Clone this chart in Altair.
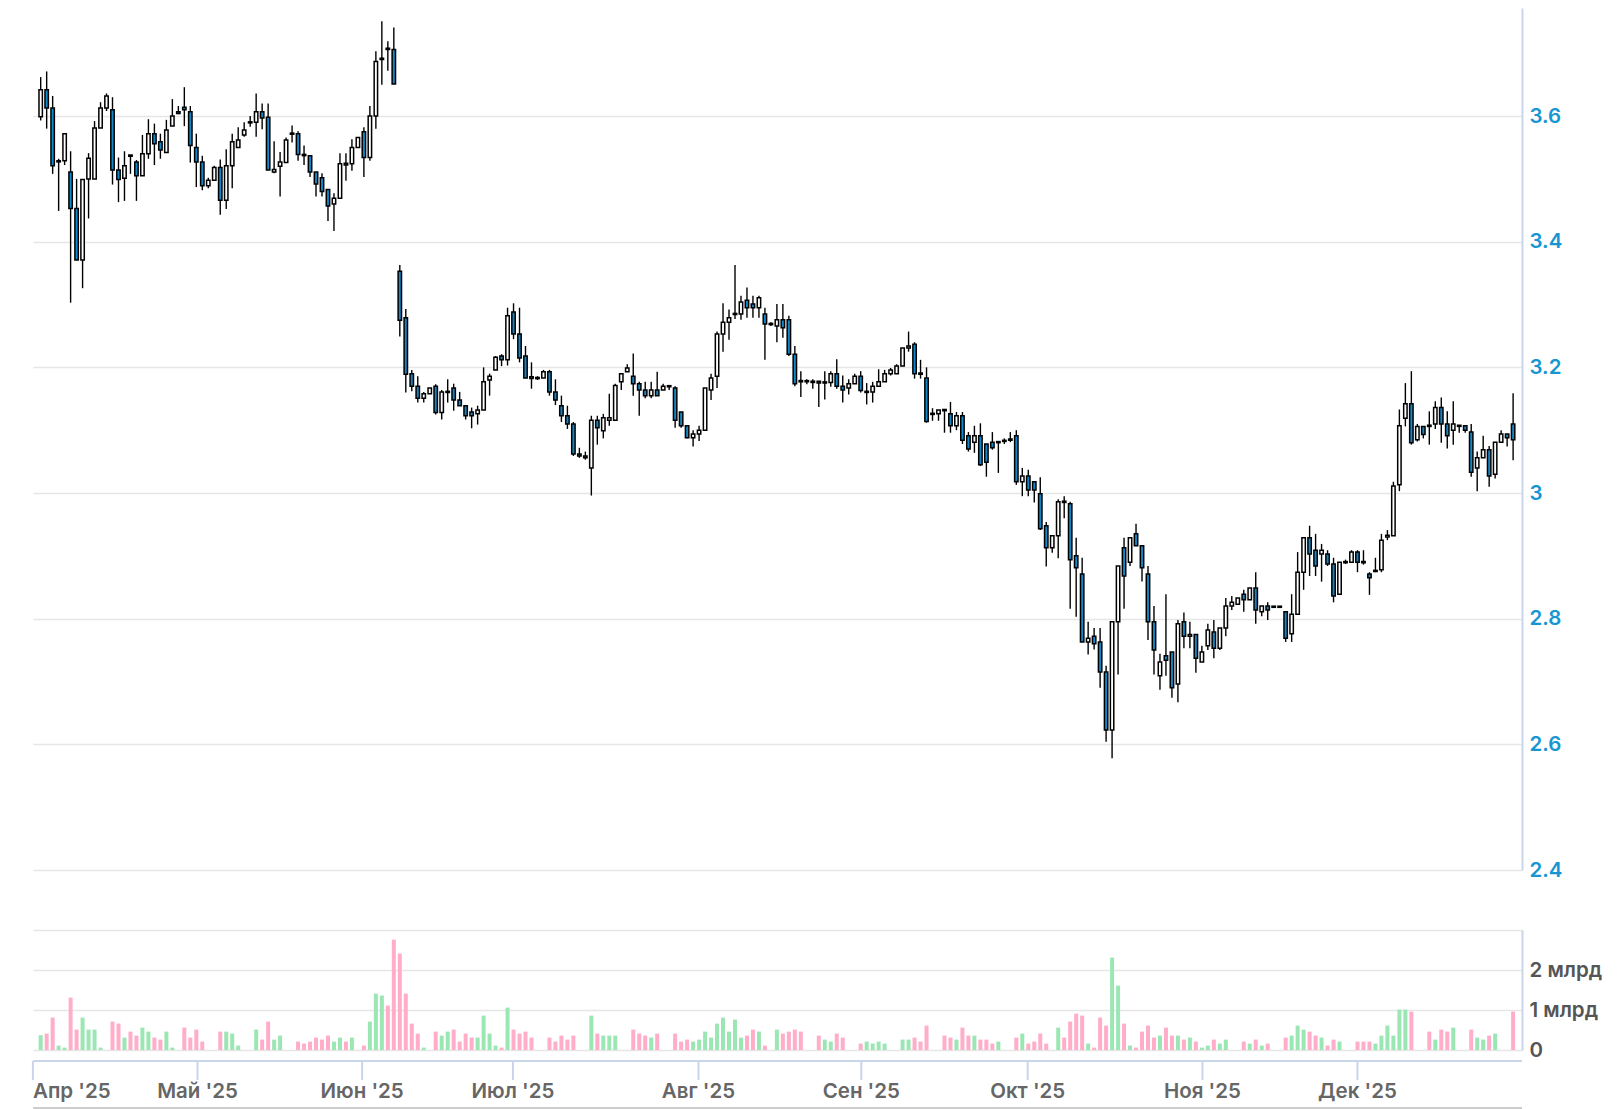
import altair as alt
import pandas as pd

# ---------------- data ----------------
opens = [
    3.599, 3.642, 3.613, 3.528, 3.529, 3.511, 3.453, 3.371, 3.500, 3.500,
    3.581, 3.613, 3.610, 3.514, 3.501, 3.538, 3.527, 3.505, 3.540, 3.572,
    3.559, 3.542, 3.584, 3.607, 3.614, 3.607, 3.550, 3.527, 3.489, 3.498,
    3.518, 3.466, 3.521, 3.550, 3.570, 3.590, 3.590, 3.607, 3.598, 3.511,
    3.520, 3.526, 3.572, 3.572, 3.539, 3.537, 3.511, 3.502, 3.483, 3.460,
    3.469, 3.525, 3.524, 3.550, 3.575, 3.534, 3.600, 3.690, 3.708, 3.706,
    3.353, 3.279, 3.190, 3.170, 3.151, 3.158, 3.170, 3.128, 3.161, 3.167,
    3.148, 3.139, 3.129, 3.126, 3.132, 3.180, 3.196, 3.218, 3.212, 3.288,
    3.253, 3.218, 3.184, 3.183, 3.183, 3.193, 3.161, 3.139, 3.123, 3.110,
    3.062, 3.059, 3.040, 3.116, 3.099, 3.116, 3.116, 3.177, 3.193, 3.186,
    3.174, 3.164, 3.155, 3.164, 3.164, 3.170, 3.167, 3.129, 3.107, 3.088,
    3.094, 3.100, 3.164, 3.186, 3.253, 3.272, 3.285, 3.285, 3.307, 3.301,
    3.295, 3.285, 3.269, 3.266, 3.276, 3.276, 3.221, 3.179, 3.178, 3.178,
    3.177, 3.176, 3.176, 3.190, 3.170, 3.167, 3.174, 3.186, 3.161, 3.161,
    3.170, 3.177, 3.190, 3.190, 3.202, 3.231, 3.237, 3.191, 3.183, 3.126,
    3.126, 3.133, 3.126, 3.107, 3.123, 3.091, 3.081, 3.091, 3.078, 3.081,
    3.081, 3.083, 3.084, 3.091, 3.018, 3.027, 3.018, 2.999, 2.948, 2.913,
    2.932, 2.987, 2.983, 2.900, 2.871, 2.763, 2.772, 2.763, 2.715, 2.623,
    2.795, 2.913, 2.890, 2.935, 2.916, 2.871, 2.795, 2.709, 2.741, 2.747,
    2.696, 2.795, 2.772, 2.775, 2.731, 2.757, 2.779, 2.753, 2.785, 2.820,
    2.823, 2.839, 2.830, 2.849, 2.811, 2.820, 2.819, 2.819, 2.811, 2.776,
    2.807, 2.874, 2.929, 2.909, 2.903, 2.903, 2.887, 2.839, 2.890, 2.890,
    2.906, 2.891, 2.871, 2.876, 2.878, 2.930, 2.932, 3.013, 3.119, 3.142,
    3.085, 3.106, 3.108, 3.110, 3.136, 3.110, 3.100, 3.107, 3.107, 3.097,
    3.040, 3.056, 3.069, 3.030, 3.081, 3.094, 3.110,
]
highs = [
    3.662, 3.671, 3.632, 3.532, 3.572, 3.544, 3.500, 3.499, 3.541, 3.592,
    3.622, 3.636, 3.630, 3.534, 3.544, 3.538, 3.530, 3.570, 3.595, 3.588,
    3.572, 3.594, 3.627, 3.616, 3.646, 3.616, 3.572, 3.537, 3.502, 3.521,
    3.531, 3.547, 3.572, 3.582, 3.590, 3.600, 3.636, 3.620, 3.620, 3.560,
    3.543, 3.566, 3.585, 3.576, 3.553, 3.537, 3.511, 3.509, 3.483, 3.477,
    3.541, 3.541, 3.563, 3.566, 3.582, 3.616, 3.703, 3.751, 3.719, 3.741,
    3.363, 3.293, 3.196, 3.186, 3.161, 3.167, 3.173, 3.164, 3.181, 3.174,
    3.161, 3.139, 3.136, 3.139, 3.200, 3.190, 3.218, 3.221, 3.295, 3.302,
    3.295, 3.234, 3.208, 3.186, 3.196, 3.196, 3.181, 3.155, 3.139, 3.113,
    3.072, 3.066, 3.123, 3.123, 3.126, 3.158, 3.174, 3.190, 3.205, 3.222,
    3.177, 3.177, 3.177, 3.193, 3.174, 3.172, 3.170, 3.129, 3.107, 3.100,
    3.107, 3.167, 3.190, 3.257, 3.302, 3.292, 3.363, 3.314, 3.327, 3.314,
    3.314, 3.295, 3.272, 3.301, 3.301, 3.282, 3.234, 3.194, 3.181, 3.181,
    3.178, 3.194, 3.194, 3.213, 3.187, 3.181, 3.190, 3.194, 3.175, 3.177,
    3.197, 3.196, 3.199, 3.205, 3.231, 3.257, 3.240, 3.212, 3.200, 3.135,
    3.132, 3.133, 3.145, 3.129, 3.129, 3.097, 3.107, 3.111, 3.078, 3.097,
    3.081, 3.087, 3.097, 3.100, 3.040, 3.037, 3.018, 3.025, 2.954, 2.932,
    2.990, 2.995, 2.986, 2.929, 2.897, 2.795, 2.785, 2.785, 2.725, 2.795,
    2.884, 2.929, 2.929, 2.951, 2.916, 2.884, 2.820, 2.744, 2.839, 2.747,
    2.798, 2.810, 2.795, 2.775, 2.757, 2.792, 2.798, 2.785, 2.833, 2.836,
    2.833, 2.846, 2.849, 2.874, 2.820, 2.826, 2.820, 2.820, 2.811, 2.839,
    2.906, 2.929, 2.948, 2.935, 2.919, 2.909, 2.897, 2.890, 2.894, 2.909,
    2.909, 2.909, 2.874, 2.897, 2.935, 2.941, 3.018, 3.133, 3.175, 3.194,
    3.110, 3.106, 3.130, 3.146, 3.152, 3.130, 3.146, 3.108, 3.108, 3.110,
    3.066, 3.091, 3.075, 3.081, 3.100, 3.094, 3.159,
]
lows = [
    3.593, 3.580, 3.508, 3.449, 3.522, 3.303, 3.371, 3.326, 3.437, 3.500,
    3.581, 3.608, 3.491, 3.463, 3.465, 3.508, 3.465, 3.505, 3.532, 3.522,
    3.532, 3.542, 3.584, 3.603, 3.584, 3.526, 3.487, 3.482, 3.485, 3.498,
    3.443, 3.452, 3.485, 3.550, 3.567, 3.583, 3.567, 3.579, 3.514, 3.509,
    3.472, 3.526, 3.558, 3.529, 3.522, 3.503, 3.472, 3.472, 3.433, 3.417,
    3.469, 3.497, 3.513, 3.550, 3.503, 3.529, 3.580, 3.650, 3.672, 3.651,
    3.249, 3.160, 3.162, 3.144, 3.144, 3.158, 3.125, 3.117, 3.144, 3.131,
    3.139, 3.117, 3.103, 3.109, 3.132, 3.155, 3.196, 3.202, 3.203, 3.245,
    3.208, 3.183, 3.166, 3.180, 3.183, 3.155, 3.140, 3.113, 3.102, 3.059,
    3.056, 3.053, 2.996, 3.077, 3.087, 3.107, 3.116, 3.164, 3.193, 3.155,
    3.123, 3.151, 3.151, 3.155, 3.164, 3.164, 3.104, 3.104, 3.087, 3.074,
    3.083, 3.100, 3.148, 3.167, 3.225, 3.244, 3.277, 3.276, 3.279, 3.279,
    3.279, 3.212, 3.266, 3.240, 3.247, 3.218, 3.170, 3.153, 3.173, 3.166,
    3.137, 3.149, 3.169, 3.166, 3.144, 3.157, 3.174, 3.160, 3.141, 3.144,
    3.170, 3.177, 3.187, 3.190, 3.202, 3.225, 3.182, 3.182, 3.112, 3.115,
    3.115, 3.096, 3.096, 3.100, 3.078, 3.066, 3.064, 3.043, 3.026, 3.069,
    3.032, 3.078, 3.081, 3.013, 2.995, 2.995, 2.985, 2.941, 2.883, 2.905,
    2.896, 2.960, 2.816, 2.803, 2.763, 2.743, 2.751, 2.690, 2.604, 2.578,
    2.711, 2.816, 2.884, 2.916, 2.859, 2.766, 2.711, 2.687, 2.709, 2.674,
    2.667, 2.753, 2.753, 2.714, 2.731, 2.750, 2.737, 2.750, 2.772, 2.814,
    2.823, 2.811, 2.830, 2.792, 2.804, 2.798, 2.818, 2.818, 2.763, 2.763,
    2.807, 2.846, 2.868, 2.868, 2.859, 2.884, 2.826, 2.839, 2.887, 2.890,
    2.874, 2.886, 2.838, 2.874, 2.874, 2.925, 2.932, 3.003, 3.106, 3.077,
    3.082, 3.087, 3.077, 3.102, 3.080, 3.071, 3.077, 3.096, 3.096, 3.026,
    3.003, 3.056, 3.010, 3.023, 3.081, 3.074, 3.052,
]
closes = [
    3.642, 3.613, 3.521, 3.528, 3.572, 3.453, 3.371, 3.499, 3.533, 3.581,
    3.613, 3.632, 3.514, 3.499, 3.521, 3.536, 3.505, 3.540, 3.572, 3.556,
    3.546, 3.578, 3.600, 3.604, 3.610, 3.553, 3.527, 3.489, 3.498, 3.518,
    3.466, 3.521, 3.559, 3.562, 3.578, 3.590, 3.607, 3.597, 3.514, 3.515,
    3.527, 3.562, 3.572, 3.539, 3.537, 3.511, 3.492, 3.480, 3.457, 3.469,
    3.524, 3.522, 3.550, 3.566, 3.534, 3.600, 3.687, 3.692, 3.706, 3.651,
    3.275, 3.189, 3.170, 3.151, 3.158, 3.167, 3.128, 3.161, 3.161, 3.148,
    3.139, 3.123, 3.123, 3.132, 3.177, 3.186, 3.216, 3.212, 3.282, 3.253,
    3.215, 3.183, 3.183, 3.183, 3.193, 3.161, 3.148, 3.123, 3.110, 3.062,
    3.059, 3.056, 3.116, 3.104, 3.120, 3.120, 3.171, 3.190, 3.199, 3.174,
    3.164, 3.155, 3.164, 3.155, 3.170, 3.170, 3.116, 3.107, 3.088, 3.094,
    3.100, 3.167, 3.183, 3.253, 3.272, 3.279, 3.285, 3.304, 3.295, 3.295,
    3.311, 3.269, 3.269, 3.276, 3.263, 3.221, 3.174, 3.177, 3.178, 3.176,
    3.176, 3.176, 3.190, 3.170, 3.164, 3.174, 3.186, 3.163, 3.161, 3.170,
    3.177, 3.190, 3.196, 3.202, 3.231, 3.234, 3.190, 3.189, 3.114, 3.126,
    3.132, 3.131, 3.107, 3.123, 3.084, 3.070, 3.091, 3.045, 3.049, 3.072,
    3.081, 3.083, 3.086, 3.018, 3.027, 3.005, 3.005, 2.943, 2.913, 2.932,
    2.986, 2.985, 2.894, 2.881, 2.763, 2.769, 2.760, 2.715, 2.623, 2.795,
    2.884, 2.868, 2.929, 2.916, 2.881, 2.795, 2.750, 2.731, 2.734, 2.690,
    2.792, 2.772, 2.775, 2.737, 2.747, 2.782, 2.753, 2.785, 2.820, 2.826,
    2.833, 2.830, 2.849, 2.814, 2.820, 2.814, 2.819, 2.819, 2.769, 2.807,
    2.874, 2.929, 2.903, 2.884, 2.909, 2.887, 2.836, 2.890, 2.890, 2.906,
    2.890, 2.889, 2.865, 2.876, 2.925, 2.933, 3.011, 3.107, 3.142, 3.080,
    3.106, 3.093, 3.106, 3.136, 3.110, 3.091, 3.110, 3.107, 3.100, 3.033,
    3.056, 3.069, 3.027, 3.081, 3.094, 3.088, 3.085,
]
# traded volume, billions of shares
volumes_bn = [
    0.37, 0.41, 0.81, 0.11, 0.06, 1.31, 0.51, 0.81, 0.51, 0.51,
    0.06, 0.00, 0.71, 0.66, 0.31, 0.46, 0.36, 0.56, 0.46, 0.31,
    0.26, 0.46, 0.06, 0.00, 0.56, 0.31, 0.51, 0.21, 0.00, 0.00,
    0.46, 0.46, 0.41, 0.11, 0.00, 0.00, 0.51, 0.26, 0.71, 0.26,
    0.36, 0.00, 0.00, 0.21, 0.16, 0.21, 0.31, 0.26, 0.36, 0.21,
    0.31, 0.21, 0.31, 0.00, 0.11, 0.71, 1.41, 1.36, 1.11, 2.76,
    2.41, 1.41, 0.66, 0.41, 0.06, 0.00, 0.46, 0.36, 0.46, 0.51,
    0.21, 0.41, 0.31, 0.31, 0.86, 0.41, 0.11, 0.06, 1.06, 0.51,
    0.41, 0.46, 0.31, 0.00, 0.00, 0.31, 0.21, 0.36, 0.26, 0.36,
    0.00, 0.00, 0.86, 0.41, 0.36, 0.36, 0.36, 0.00, 0.00, 0.51,
    0.41, 0.36, 0.31, 0.41, 0.00, 0.00, 0.41, 0.21, 0.26, 0.21,
    0.26, 0.46, 0.31, 0.66, 0.81, 0.46, 0.76, 0.31, 0.36, 0.51,
    0.46, 0.11, 0.00, 0.51, 0.41, 0.46, 0.51, 0.46, 0.00, 0.00,
    0.36, 0.26, 0.21, 0.41, 0.31, 0.00, 0.00, 0.16, 0.21, 0.16,
    0.21, 0.16, 0.00, 0.00, 0.26, 0.26, 0.31, 0.21, 0.61, 0.00,
    0.00, 0.36, 0.31, 0.26, 0.56, 0.36, 0.36, 0.26, 0.26, 0.16,
    0.21, 0.00, 0.00, 0.31, 0.41, 0.16, 0.21, 0.41, 0.16, 0.00,
    0.56, 0.31, 0.71, 0.91, 0.86, 0.16, 0.06, 0.81, 0.61, 2.31,
    1.61, 0.66, 0.11, 0.06, 0.46, 0.61, 0.31, 0.36, 0.56, 0.36,
    0.36, 0.26, 0.31, 0.21, 0.06, 0.11, 0.26, 0.16, 0.26, 0.00,
    0.00, 0.21, 0.16, 0.26, 0.11, 0.16, 0.00, 0.00, 0.31, 0.36,
    0.61, 0.51, 0.46, 0.36, 0.31, 0.11, 0.26, 0.21, 0.00, 0.00,
    0.21, 0.21, 0.21, 0.16, 0.36, 0.61, 0.36, 1.01, 1.01, 0.96,
    0.00, 0.00, 0.46, 0.26, 0.51, 0.46, 0.56, 0.00, 0.00, 0.51,
    0.31, 0.26, 0.36, 0.41, 0.00, 0.00, 0.96,
]
# month ticks, in trading-session index units
month_ticks = [-1.3, 26.2, 53.7, 78.9, 109.9, 137.1, 164.9, 194.1, 220.0]
month_labels = ["Апр '25", "Май '25", "Июн '25", "Июл '25", "Авг '25",
                "Сен '25", "Окт '25", "Ноя '25", "Дек '25"]
price_ticks = [2.4, 2.6, 2.8, 3.0, 3.2, 3.4, 3.6]
volume_ticks = [0, 1e9, 2e9, 3e9]

# ---------------- frames ----------------
n = len(closes)
df = pd.DataFrame({
    "i": list(range(n)),
    "open": opens, "high": highs, "low": lows, "close": closes,
    "volume": [v * 1e9 for v in volumes_bn],
})
months = pd.DataFrame({"pos": month_ticks, "label": month_labels,
                       "k": list(range(len(month_ticks)))})

# ---------------- style ----------------
FONT = "Inter"
AXIS_LINE = "#c9d5ea"
GRID = "#e6e6e6"
BLUE = "#1189c9"
UP_VOL = "#9be7b3"
DOWN_VOL = "#ffadc8"
W = 1489
H_PRICE = 862
H_VOL = 120

x_scale = alt.Scale(domain=[-0.448, 246.65], nice=False, zero=False)
X = alt.X("i:Q", scale=x_scale, axis=None)
up = "datum.close >= datum.open"

price_axis = alt.Axis(
    orient="right", values=price_ticks, format=".1~f", title=None,
    ticks=False, labelPadding=7, labelColor="#1896d1", labelFontSize=20.5,
    labelFont=FONT, labelFontWeight=600, domainColor=AXIS_LINE, domainWidth=2,
    gridColor=GRID, gridWidth=1.5,
)
y_scale = alt.Scale(domain=[2.4, 3.772], nice=False, zero=False)

wicks = alt.Chart(df).mark_rule(color="#000000", strokeWidth=1.4).encode(
    x=X,
    y=alt.Y("low:Q", scale=y_scale, axis=price_axis),
    y2="high:Q",
)
bodies = alt.Chart(df).transform_calculate(
    pad="abs(datum.close - datum.open) < 0.0018 ? 0.0009 : 0",
    b0="min(datum.open, datum.close) - datum.pad",
    b1="max(datum.open, datum.close) + datum.pad",
).mark_bar(size=3.4, stroke="#000000", strokeWidth=1.5).encode(
    x=X,
    y=alt.Y("b0:Q", scale=y_scale, axis=price_axis),
    y2="b1:Q",
    fill=alt.condition(up, alt.value("#ffffff"), alt.value(BLUE)),
)
price = alt.layer(wicks, bodies).properties(width=W, height=H_PRICE)

vol_axis = alt.Axis(
    orient="right", values=volume_ticks, title=None, ticks=False,
    labelExpr="datum.value >= 3e9 ? '' : (datum.value == 0 ? '0' : format(datum.value / 1e9, 'd') + ' млрд')",
    labelPadding=7, labelColor="#555555", labelFontSize=20.5, labelFont=FONT,
    labelFontWeight=600, domainColor=AXIS_LINE, domainWidth=2,
    gridColor=GRID, gridWidth=1.5,
)
vol_bars = alt.Chart(df).mark_bar(size=4).encode(
    x=X,
    y=alt.Y("volume:Q", scale=alt.Scale(domain=[0, 3e9], nice=False), axis=vol_axis),
    color=alt.condition(up, alt.value(UP_VOL), alt.value(DOWN_VOL)),
)
x_line = alt.Chart(months).mark_rule(color=AXIS_LINE, strokeWidth=2).encode(
    x=alt.value(0), x2=alt.value(W), y=alt.value(H_VOL + 11),
)
bottom_line = alt.Chart(months).mark_rule(color="#cccccc", strokeWidth=1.5).encode(
    x=alt.value(0), x2=alt.value(W), y=alt.value(H_VOL + 58),
)
month_tick_marks = alt.Chart(months).mark_rule(color=AXIS_LINE, strokeWidth=2).encode(
    x=alt.X("pos:Q", scale=x_scale, axis=None),
    y=alt.value(H_VOL + 11), y2=alt.value(H_VOL + 30),
)
first_label = alt.Chart(months).transform_filter("datum.k == 0").mark_text(
    align="left", baseline="alphabetic", font=FONT, fontSize=20.5,
    fontWeight=600, color="#666666",
).encode(x=alt.value(0), y=alt.value(H_VOL + 48), text="label:N")
other_labels = alt.Chart(months).transform_filter("datum.k > 0").mark_text(
    align="center", baseline="alphabetic", font=FONT, fontSize=20.5,
    fontWeight=600, color="#666666",
).encode(
    x=alt.X("pos:Q", scale=x_scale, axis=None),
    y=alt.value(H_VOL + 48), text="label:N",
)
volume = alt.layer(
    vol_bars, x_line, month_tick_marks, first_label, other_labels, bottom_line
).properties(width=W, height=H_VOL)

chart = alt.vconcat(price, volume, spacing=60, bounds="flush").properties(
    padding={"left": 23, "top": 0, "right": 5, "bottom": 0},
    background="#ffffff",
).configure_view(stroke=None).configure_axis(labelFont=FONT)

chart.save("out.html", embed_options={"renderer": "svg", "actions": False})
